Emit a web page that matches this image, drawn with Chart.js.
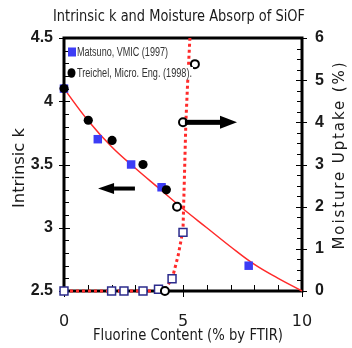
<!DOCTYPE html>
<html>
<head>
<meta charset="utf-8">
<script src="https://cdn.jsdelivr.net/npm/chart.js@4/dist/chart.umd.min.js"></script>
<style>
  html, body { margin: 0; padding: 0; background: #fff; }
  #wrap { width: 352px; height: 348px; }
</style>
</head>
<body>
<div id="wrap"><canvas id="chart"></canvas></div>
<script>
// Intrinsic k (left axis) vs fluorine content
const matsunoX = [0, 1.42, 2.82, 4.1, 7.76];
const matsunoK = [4.1, 3.7, 3.5, 3.32, 2.7];
const treichelX = [0, 1.02, 2.02, 3.32, 4.3];
const treichelK = [4.1, 3.85, 3.69, 3.5, 3.3];

// fitted k curve
const fitX = [0, 1, 2, 3, 4, 5, 6, 7, 8, 9, 10];
const fitK = [4.1, 3.85, 3.64, 3.47, 3.31, 3.15, 3.0, 2.85, 2.71, 2.6, 2.5];

// Moisture uptake (right axis)
const matsunoMX = [0, 2.0, 2.52, 3.32, 3.97, 4.54, 5.0];
const matsunoM = [0, 0, 0, 0, 0.04, 0.29, 1.39];
const treichelMX = [4.24, 4.75, 5.0, 5.5];
const treichelM = [0, 2.0, 4.0, 5.38];

// dotted moisture trend line
const trendX = [0, 4.2, 4.55, 4.8, 5.0, 5.05, 5.12, 5.2, 5.29];
const trendM = [0, 0, 0.3, 0.85, 1.45, 2.5, 4.0, 5.0, 6.0];

const legendLabels = ["Matsuno, VMIC (1997)", "Treichel, Micro. Eng. (1998)."];

const pts = (xs, ys) => xs.map((x, i) => ({ x: x, y: ys[i] }));

// draws text squeezed/stretched to a given width
function fitText(ctx, text, x, y, width, font, rotate, align, color) {
  ctx.save();
  ctx.font = font;
  const w = ctx.measureText(text).width;
  ctx.translate(x, y);
  if (rotate) ctx.rotate(-Math.PI / 2);
  ctx.scale(width / w, 1);
  ctx.textAlign = align || "center";
  ctx.textBaseline = "middle";
  ctx.fillStyle = color || "#1a1a1a";
  ctx.fillText(text, 0, 0);
  ctx.restore();
}

function spacedText(ctx, text, x, y, length, font) {
  ctx.save();
  ctx.font = font;
  const w0 = ctx.measureText(text).width;
  const sp = (length - w0) / (text.length - 1);
  ctx.letterSpacing = sp + "px";
  ctx.translate(x, y);
  ctx.rotate(-Math.PI / 2);
  ctx.textAlign = "center";
  ctx.textBaseline = "middle";
  ctx.fillStyle = "#1a1a1a";
  ctx.fillText(text, sp / 2, 0);
  ctx.restore();
}

function arrow(ctx, x1, x2, y, shaft, headLen, headH) {
  const dir = x2 > x1 ? 1 : -1;
  const base = x2 - dir * headLen;
  ctx.fillStyle = "#000";
  ctx.fillRect(Math.min(x1, base), y - shaft / 2, Math.abs(base - x1), shaft);
  ctx.beginPath();
  ctx.moveTo(x2, y);
  ctx.lineTo(base, y - headH / 2);
  ctx.lineTo(base, y + headH / 2);
  ctx.closePath();
  ctx.fill();
}

const framePlugin = {
  id: "frame",
  beforeDatasetsDraw(chart) {
    const ctx = chart.ctx;
    const a = chart.chartArea;
    const x = chart.scales.x, y = chart.scales.y, y2 = chart.scales.y2;
    ctx.save();
    ctx.strokeStyle = "#000";
    ctx.lineWidth = 3;
    ctx.strokeRect(a.left, a.top, a.right - a.left, a.bottom - a.top);
    ctx.lineWidth = 1;
    ctx.beginPath();
    y.ticks.forEach((t) => {
      const p = Math.round(y.getPixelForValue(t.value)) + 0.5;
      const major = Math.abs(t.value * 2 - Math.round(t.value * 2)) < 1e-6;
      ctx.moveTo(a.left - (major ? 5 : 0), p);
      ctx.lineTo(a.left + (major ? 6 : 5), p);
    });
    y2.ticks.forEach((t) => {
      const p = Math.round(y2.getPixelForValue(t.value)) + 0.5;
      const major = Math.abs(t.value - Math.round(t.value)) < 1e-6;
      ctx.moveTo(a.right + (major ? 5 : 0), p);
      ctx.lineTo(a.right - (major ? 6 : 5), p);
    });
    x.ticks.forEach((t) => {
      const p = Math.round(x.getPixelForValue(t.value)) + 0.5;
      const major = Math.abs(t.value / 5 - Math.round(t.value / 5)) < 1e-6;
      ctx.moveTo(p, a.bottom - 6);
      ctx.lineTo(p, a.bottom + (major ? 6 : 0));
    });
    ctx.stroke();
    ctx.restore();
  },
  afterDatasetsDraw(chart) {
    const ctx = chart.ctx;
    const a = chart.chartArea;
    const x = chart.scales.x, y = chart.scales.y, y2 = chart.scales.y2;

    // in-plot legend
    const rows = [a.top + 14, a.top + 35];
    const widths = [91, 115];
    ctx.save();
    legendLabels.forEach((lab, i) => {
      ctx.fillStyle = "#fff";
      ctx.fillRect(a.left + 12, rows[i] - 6, widths[i] + 2, 12);
      fitText(ctx, lab, a.left + 13, rows[i] + 0.5, widths[i], "12px 'Liberation Sans', sans-serif", false, "left", "#333");
    });
    ctx.fillStyle = "#3c3cf5";
    ctx.fillRect(a.left + 4, rows[0] - 4.5, 8, 9);
    ctx.fillStyle = "#000";
    ctx.beginPath();
    ctx.ellipse(a.left + 7.5, rows[1], 4, 4.8, 0, 0, Math.PI * 2);
    ctx.fill();
    ctx.restore();

    // direction arrows
    arrow(ctx, x.getPixelForValue(2.98), x.getPixelForValue(1.43), y.getPixelForValue(3.31), 4, 16, 11);
    arrow(ctx, x.getPixelForValue(5.08), x.getPixelForValue(7.27), y2.getPixelForValue(4.0), 5, 17, 13);
  },
  afterDraw(chart) {
    const ctx = chart.ctx;
    fitText(ctx, "Intrinsic k and Moisture Absorp of SiOF", 179, 17, 252, "15px 'DejaVu Sans'", false);
    fitText(ctx, "Fluorine Content (% by FTIR)", 188, 336, 190, "16px 'DejaVu Sans'", false);
    fitText(ctx, "Intrinsic k", 20, 168, 80, "16px 'DejaVu Sans'", true);
    spacedText(ctx, "Moisture Uptake (%)", 340, 156, 187, "15px 'DejaVu Sans'");
  },
};

const tickFont = { family: "'Liberation Sans Narrow', 'Liberation Sans', sans-serif", size: 16, weight: "bold" };

new Chart(document.getElementById("chart"), {
  type: "scatter",
  data: {
    datasets: [
      {
        label: "fit",
        data: pts(fitX, fitK),
        yAxisID: "y",
        showLine: true,
        borderColor: "#ff2a2a",
        borderWidth: 1.5,
        pointRadius: 0,
        tension: 0.4,
        order: 6,
        clip: false,
      },
      {
        label: "trend",
        data: pts(trendX, trendM),
        yAxisID: "y2",
        showLine: true,
        borderColor: "#ff2a2a",
        borderWidth: 3,
        borderDash: [3, 3],
        pointRadius: 0,
        tension: 0,
        order: 5,
        clip: false,
      },
      {
        label: legendLabels[0],
        data: pts(matsunoX, matsunoK),
        yAxisID: "y",
        pointStyle: "rect",
        pointRadius: 6,
        backgroundColor: "#3c3cf5",
        borderColor: "#3c3cf5",
        borderWidth: 0,
        order: 4,
        clip: false,
      },
      {
        label: legendLabels[1],
        data: pts(treichelX, treichelK),
        yAxisID: "y",
        pointStyle: "circle",
        pointRadius: 4.6,
        backgroundColor: "#000",
        borderColor: "#000",
        borderWidth: 0,
        order: 3,
        clip: false,
      },
      {
        label: "Matsuno moisture",
        data: pts(matsunoMX, matsunoM),
        yAxisID: "y2",
        pointStyle: "rect",
        pointRadius: 5.6,
        backgroundColor: "#fff",
        borderColor: "#2b2b8c",
        borderWidth: 1.5,
        order: 2,
        clip: false,
      },
      {
        label: "Treichel moisture",
        data: pts(treichelMX, treichelM),
        yAxisID: "y2",
        pointStyle: "circle",
        pointRadius: 4,
        backgroundColor: "#fff",
        borderColor: "#000",
        borderWidth: 2,
        order: 1,
        clip: false,
      },
    ],
  },
  options: {
    responsive: true,
    maintainAspectRatio: false,
    animation: false,
    layout: { padding: { top: 38, left: 0, right: 0, bottom: 0 } },
    plugins: {
      legend: { display: false },
      title: { display: false },
      tooltip: { enabled: false },
    },
    scales: {
      x: {
        type: "linear",
        min: 0,
        max: 10,
        grid: { display: false, drawTicks: false },
        border: { display: false },
        ticks: {
          stepSize: 1,
          autoSkip: false,
          maxRotation: 0,
          padding: 21,
          color: "#1a1a1a",
          font: { family: "'DejaVu Sans'", size: 16 },
          callback: (v) => (v % 5 === 0 ? String(v) : ""),
        },
        afterFit: (s) => { s.height = 57; },
      },
      y: {
        position: "left",
        min: 2.5,
        max: 4.5,
        grid: { display: false, drawTicks: false },
        border: { display: false },
        ticks: {
          stepSize: 0.1,
          autoSkip: false,
          padding: 11,
          color: "#1a1a1a",
          font: tickFont,
          callback: (v) => {
            const r = Math.round(v * 10) / 10;
            return Math.abs(r * 2 - Math.round(r * 2)) < 1e-6 ? String(r) : "";
          },
        },
        afterFit: (s) => { s.width = 64; },
      },
      y2: {
        position: "right",
        min: 0,
        max: 6,
        grid: { display: false, drawTicks: false },
        border: { display: false },
        ticks: {
          stepSize: 0.25,
          autoSkip: false,
          padding: 13,
          color: "#1a1a1a",
          font: tickFont,
          callback: (v) => (Math.abs(v - Math.round(v)) < 1e-6 ? String(Math.round(v)) : ""),
        },
        afterFit: (s) => { s.width = 50; },
      },
    },
  },
  plugins: [framePlugin],
});
</script>
</body>
</html>
